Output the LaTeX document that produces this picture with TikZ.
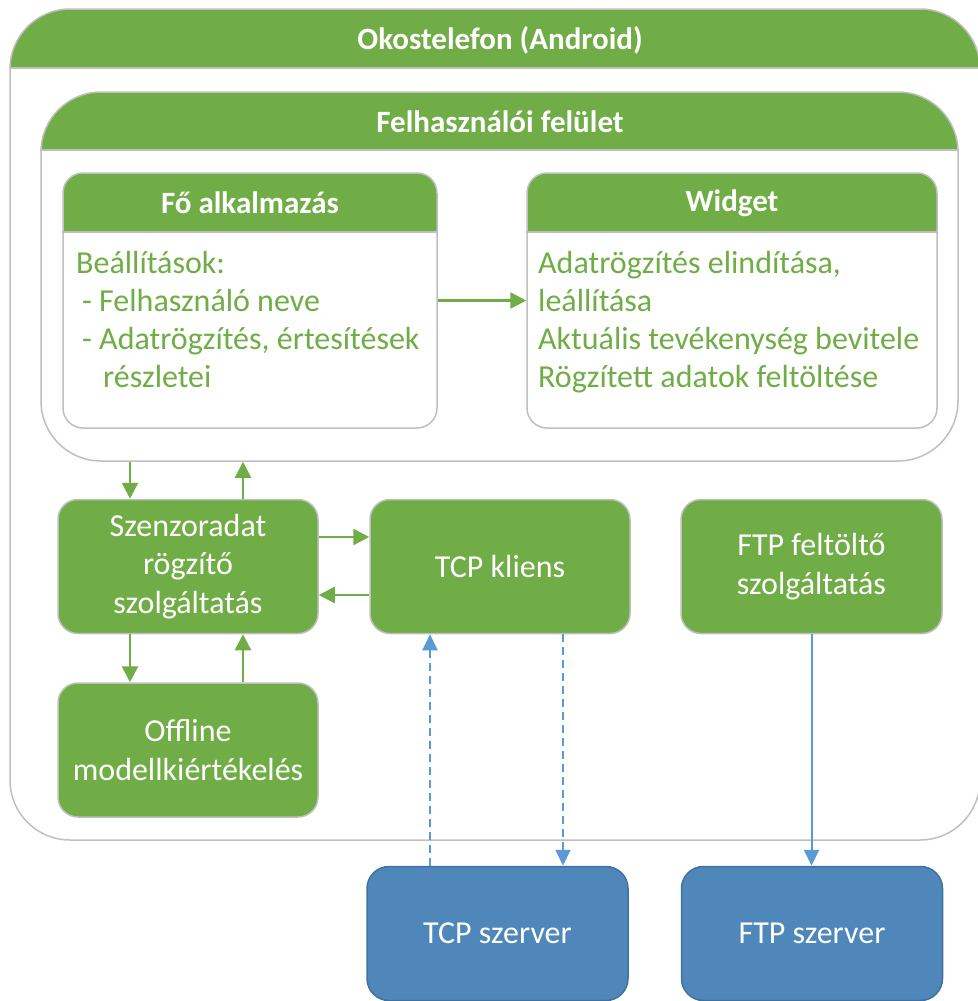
\documentclass[tikz,border=0pt]{standalone}
\usepackage{fontspec}
\setmainfont{Carlito}
\usetikzlibrary{arrows.meta}
\definecolor{ggreen}{HTML}{70AD47}
\definecolor{bfill}{HTML}{4F87BA}
\definecolor{bborder}{HTML}{41719C}
\definecolor{barrow}{HTML}{5B9BD5}
\definecolor{bgray}{HTML}{BFBFBF}
\tikzset{
  cont/.style={draw=bgray, fill=white, line width=1.5pt, inner sep=0pt},
  band/.style={path picture={\fill[ggreen, sharp corners] (path picture bounding box.north west) rectangle ([yshift=-#1]path picture bounding box.north east);}},
  hdrtext/.style={font=\fontsize{31}{36}\selectfont\bfseries, text=white, inner sep=0pt},
  bodytext/.style={font=\fontsize{32}{38}\selectfont, text=ggreen, align=left, inner sep=0pt, anchor=north west},
  gbox/.style={draw=bgray, fill=ggreen, line width=1.5pt, rounded corners=20pt, text=white,
    font=\fontsize{32}{38.5}\selectfont, align=center, inner sep=0pt, minimum width=260pt, minimum height=134pt},
  bbox/.style={draw=bborder, fill=bfill, line width=1.5pt, rounded corners=22pt, text=white,
    font=\fontsize{32}{38}\selectfont, align=center, inner sep=0pt, minimum width=261pt, minimum height=134pt},
  garrow/.style={draw=ggreen, line width=2.5pt, -{Triangle[length=16pt,width=16pt]}},
  barr/.style={draw=barrow, line width=2pt, -{Triangle[length=16pt,width=15pt]}},
  bdash/.style={barr, dash pattern=on 8pt off 5pt},
}
\begin{document}
\begin{tikzpicture}[x=1pt,y=-1pt]
\useasboundingbox (0,0) rectangle (977,1001);
% outer container
\node[cont, rounded corners=60pt, minimum width=970pt, minimum height=831pt, band=59pt]
  (outer) at (495,424.5) {};
\draw[draw=bgray, line width=1.5pt] (outer.west |- 0,68) -- (outer.east |- 0,68);
\node[hdrtext] (outerT) at (500,40) {Okostelefon (Android)};
% inner container
\node[cont, rounded corners=60pt, minimum width=917pt, minimum height=369pt, band=58pt]
  (inner) at (499.5,276.5) {};
\draw[draw=bgray, line width=1.5pt] (inner.west |- 0,150) -- (inner.east |- 0,150);
\node[hdrtext] (innerT) at (500,122) {Felhasználói felület};
% Fo alkalmazas
\node[cont, rounded corners=20pt, minimum width=374pt, minimum height=255pt, band=59pt]
  (fo) at (250,300.5) {};
\draw[draw=bgray, line width=1.5pt] (fo.west |- 0,232) -- (fo.east |- 0,232);
\node[hdrtext] (foT) at (250,203) {Fő alkalmazás};
\node[bodytext] (foB) at (76,251) {Beállítások:\\\hspace*{6pt}- Felhasználó neve\\\hspace*{6pt}- Adatrögzítés, értesítések\\\hspace*{27pt}részletei};
% Widget
\node[cont, rounded corners=20pt, minimum width=410pt, minimum height=255pt, band=59pt]
  (wid) at (732,300.5) {};
\draw[draw=bgray, line width=1.5pt] (wid.west |- 0,232) -- (wid.east |- 0,232);
\node[hdrtext] (widT) at (732,203) {Widget};
\node[bodytext] (widB) at (538,251) {Adatrögzítés elindítása,\\leállítása\\Aktuális tevékenység bevitele\\Rögzített adatok feltöltése};
% green boxes
\node[gbox] (sz) at (188,566.5) {Szenzoradat\\rögzítő\\szolgáltatás};
\node[gbox] (tcp) at (500,566.5) {TCP kliens};
\node[gbox, minimum width=261pt] (ftpf) at (811.5,566.5) {FTP feltöltő\\szolgáltatás};
\node[gbox] (off) at (188,750) {Offline\\modellkiértékelés};
% blue boxes
\node[bbox] (tcps) at (497.5,933.5) {TCP szerver};
\node[bbox] (ftps) at (812,933.5) {FTP szerver};
% connectors
\draw[garrow] (fo.east) -- (wid.west);
\draw[garrow] ([xshift=-58pt]sz.north |- inner.south) -- ([xshift=-58pt]sz.north);
\draw[garrow] ([xshift=55pt]sz.north) -- ([xshift=55pt]sz.north |- inner.south);
\draw[garrow] ([yshift=29.5pt]sz.east) -- ([yshift=29.5pt]tcp.west);
\draw[garrow] ([yshift=-28.5pt]tcp.west) -- ([yshift=-28.5pt]sz.east);
\draw[garrow] ([xshift=-58pt]sz.south) -- ([xshift=-58pt]sz.south |- off.north);
\draw[garrow] ([xshift=55pt]off.north) -- ([xshift=55pt]off.north |- sz.south);
\draw[bdash] ([xshift=-70pt]tcp.south |- tcps.north) -- ([xshift=-70pt]tcp.south);
\draw[bdash] ([xshift=63pt]tcp.south) -- ([xshift=63pt]tcp.south |- tcps.north);
\draw[barr] (ftpf.south) -- (ftpf.south |- ftps.north);
\end{tikzpicture}
\end{document}
